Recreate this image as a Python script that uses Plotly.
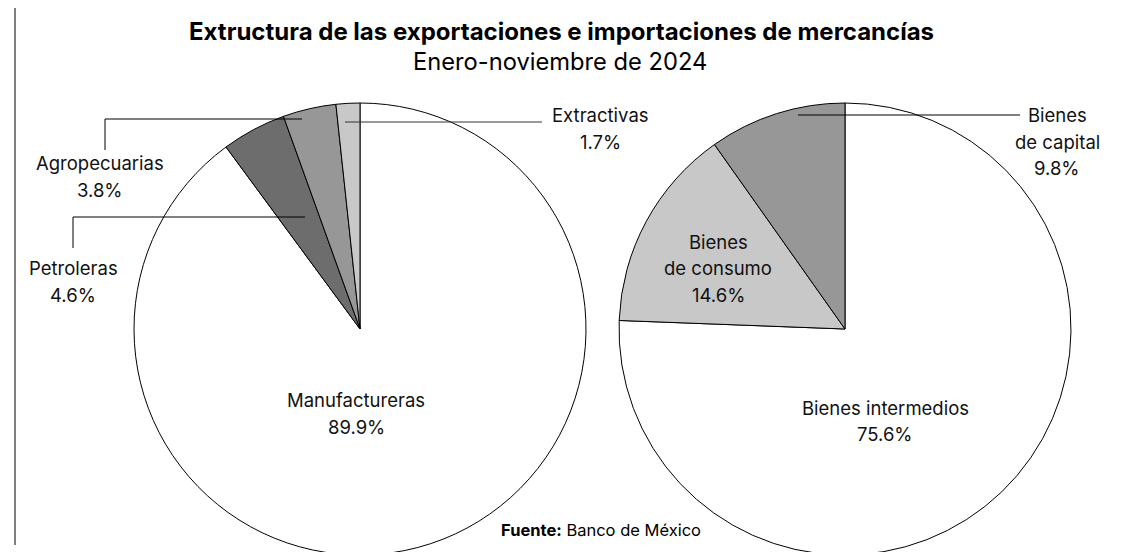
import plotly.graph_objects as go

W, H = 1130, 552
OFF = 8  # default page body margin shifts the figure by 8px

# Data
exp_labels = ["Extractivas", "Agropecuarias", "Petroleras", "Manufactureras"]
exp_values = [1.7, 3.8, 4.6, 89.9]
exp_colors = ["#c8c8c8", "#979797", "#6d6d6d", "#ffffff"]

imp_labels = ["Bienes de capital", "Bienes de consumo", "Bienes intermedios"]
imp_values = [9.8, 14.6, 75.6]
imp_colors = ["#979797", "#c8c8c8", "#ffffff"]

title = "Extructura de las exportaciones e importaciones de mercancías"
subtitle = "Enero-noviembre de 2024"
source_bold = "Fuente:"
source_text = "Banco de México"

FONT = "Inter"


def px(x):
    return (x - OFF) / W


def py(y):
    return 1 - (y - OFF) / H


R = 226
CY = 329


def domain(cx):
    return dict(x=[px(cx - R), px(cx + R)], y=[py(CY + R), py(CY - R)])


fig = go.Figure()
# clockwise with reversed order => first category sits just counter-clockwise of 12 o'clock
fig.add_trace(go.Pie(
    labels=exp_labels[::-1], values=exp_values[::-1], sort=False, direction="clockwise",
    rotation=0, marker=dict(colors=exp_colors[::-1], line=dict(color="#000000", width=1)),
    textinfo="none", hoverinfo="label+percent", domain=domain(360), showlegend=False,
))
fig.add_trace(go.Pie(
    labels=imp_labels[::-1], values=imp_values[::-1], sort=False, direction="clockwise",
    rotation=0, marker=dict(colors=imp_colors[::-1], line=dict(color="#000000", width=1)),
    textinfo="none", hoverinfo="label+percent", domain=domain(845), showlegend=False,
))


def fmt(v):
    return f"{v:.1f}%"


def label(lines, x, ys, size=18.5):
    for t, y in zip(lines, ys):
        fig.add_annotation(x=px(x), y=py(y), xref="paper", yref="paper", text=t,
                           showarrow=False, xanchor="center", yanchor="middle",
                           font=dict(family=FONT, size=size, color="#111111"))


# Labels
label([exp_labels[0], fmt(exp_values[0])], 600, [115, 142])
label([exp_labels[1], fmt(exp_values[1])], 100, [163, 190])
label([exp_labels[2], fmt(exp_values[2])], 73, [268, 295])
label([exp_labels[3], fmt(exp_values[3])], 356, [400, 427])
label(["Bienes", "de capital", fmt(imp_values[0])], 1057, [115, 142, 168])
label(["Bienes", "de consumo", fmt(imp_values[1])], 718, [242, 268, 295])
label([imp_labels[2], fmt(imp_values[2])], 885, [408, 434])

# Title
fig.add_annotation(x=px(561), y=py(32), xref="paper", yref="paper", text=f"<b>{title}</b>",
                   showarrow=False, xanchor="center", yanchor="middle",
                   font=dict(family=FONT, size=24, color="#000000"))
fig.add_annotation(x=px(560), y=py(62), xref="paper", yref="paper", text=subtitle,
                   showarrow=False, xanchor="center", yanchor="middle",
                   font=dict(family=FONT, size=23.7, color="#000000"))
fig.add_annotation(x=px(601), y=py(530), xref="paper", yref="paper",
                   text=f"<b>{source_bold}</b> {source_text}",
                   showarrow=False, xanchor="center", yanchor="middle",
                   font=dict(family=FONT, size=16.5, color="#000000"))


# Leader lines
def path(points, color="#000000", width=1):
    d = "M " + " L ".join(f"{px(x)},{py(y)}" for x, y in points)
    fig.add_shape(type="path", path=d, xref="paper", yref="paper",
                  line=dict(color=color, width=width))


path([(345, 122), (542, 122)], color="#333333")
path([(302, 119), (105, 119), (105, 150)])
path([(305, 217), (73, 217), (73, 248)])
path([(798, 115), (1020, 115)])

# Left border line
path([(15, 7), (15, 545)])

fig.update_layout(width=W, height=H, margin=dict(l=0, r=0, t=0, b=0),
                  paper_bgcolor="#ffffff", plot_bgcolor="#ffffff")

fig.write_html("out.html")
